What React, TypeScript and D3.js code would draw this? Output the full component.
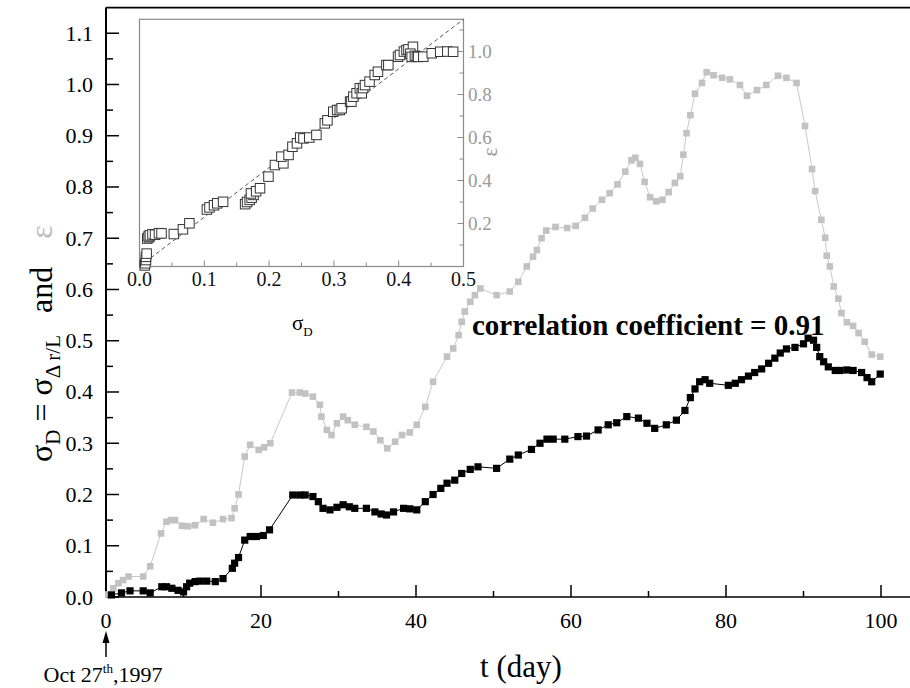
import React from 'react';
import * as d3 from 'd3';

// ---- main series: sigma_D (black) ----
const sigmaT = [0.7, 2.0, 3.1, 4.8, 5.7, 7.2, 7.8, 8.5, 9.3, 10.0, 10.4, 10.8, 11.5, 12.1, 13.0, 14.1, 15.1, 16.3, 16.6, 17.1, 17.9, 18.6, 19.4, 20.3, 21.1,
  24.1, 25.0, 25.7, 26.7, 27.4, 28.0, 28.9, 29.8, 30.6, 31.4, 32.1, 33.6, 34.7, 35.5, 36.2, 37.1, 38.4, 39.2, 40.1, 41.2, 42.2, 43.2, 44.0, 45.0, 45.9, 47.0, 48.0,
  50.4, 52.1, 53.2, 54.9, 56.0, 56.9, 57.7, 59.2, 60.9, 62.0, 63.5, 64.8, 65.9, 67.2, 68.7, 69.8, 70.8, 72.3, 73.6, 74.7, 75.4, 76.0, 76.6, 77.3, 77.9,
  80.3, 81.2, 82.0, 82.9, 83.7, 84.6, 85.5, 86.3, 87.0, 87.8, 88.9, 90.0, 90.6, 91.3, 91.7, 92.1, 92.6, 93.2, 94.1, 94.7, 95.6, 96.4, 97.5, 98.2, 98.8, 99.9];
const sigmaV = [0.004, 0.008, 0.012, 0.012, 0.008, 0.02, 0.02, 0.017, 0.013, 0.01, 0.02, 0.027, 0.03, 0.031, 0.031, 0.03, 0.036, 0.056, 0.066, 0.077, 0.111, 0.118, 0.118, 0.12, 0.131,
  0.199, 0.199, 0.199, 0.196, 0.186, 0.173, 0.17, 0.175, 0.18, 0.176, 0.173, 0.173, 0.166, 0.162, 0.16, 0.166, 0.173, 0.172, 0.17, 0.186, 0.2, 0.212, 0.222, 0.228, 0.241, 0.249, 0.254,
  0.251, 0.269, 0.277, 0.288, 0.3, 0.308, 0.308, 0.308, 0.313, 0.314, 0.326, 0.336, 0.34, 0.352, 0.349, 0.339, 0.329, 0.336, 0.345, 0.364, 0.389, 0.406, 0.42, 0.424, 0.417,
  0.413, 0.417, 0.424, 0.431, 0.438, 0.445, 0.456, 0.466, 0.476, 0.484, 0.487, 0.494, 0.505, 0.501, 0.487, 0.469, 0.459, 0.449, 0.442, 0.442, 0.443, 0.442, 0.438, 0.428, 0.42, 0.435];

// ---- main series: epsilon (grey) ----
const epsT = [0.3, 0.95, 1.6, 2.2, 2.9, 4.8, 5.7, 7.1, 7.8, 8.4, 8.9, 9.8, 10.6, 11.5, 12.6, 13.8, 15.1, 16.2, 16.6, 17.1, 17.9, 18.6, 19.7, 20.4, 21.2,
  24.0, 25.0, 25.7, 26.7, 27.6, 27.8, 28.5, 29.1, 29.8, 30.6, 31.2, 32.1, 33.6, 34.5, 35.4, 36.3, 37.3, 38.2, 39.2, 40.1, 41.2, 42.2, 44.0, 44.8, 45.5, 45.9, 46.3, 47.0, 47.6, 48.3,
  50.4, 52.1, 53.2, 54.3, 55.1, 55.6, 56.2, 56.8, 58.0, 59.5, 60.6, 61.8, 62.8, 64.0, 65.0, 66.0, 67.0, 67.8, 68.3, 68.9, 69.5, 70.2, 71.0, 71.8, 72.6, 73.4,
  74.1, 74.5, 74.9, 75.4, 76.0, 76.9, 77.5, 78.4, 79.5, 80.5, 81.8, 82.7, 84.0, 85.2, 86.7, 87.8, 89.1, 90.2, 91.1, 91.5, 92.3, 92.8, 93.0, 93.4, 93.9, 94.5, 94.9, 95.6, 96.4, 97.1, 97.9, 98.8, 99.9];
const epsV = [0.005, 0.017, 0.027, 0.033, 0.04, 0.04, 0.06, 0.124, 0.147, 0.15, 0.15, 0.139, 0.138, 0.14, 0.152, 0.145, 0.152, 0.154, 0.173, 0.2, 0.274, 0.297, 0.287, 0.292, 0.3,
  0.399, 0.399, 0.397, 0.391, 0.375, 0.352, 0.326, 0.316, 0.339, 0.352, 0.345, 0.336, 0.332, 0.323, 0.306, 0.29, 0.303, 0.316, 0.321, 0.336, 0.371, 0.42, 0.469, 0.485, 0.511, 0.537, 0.557, 0.576, 0.589, 0.602,
  0.589, 0.596, 0.615, 0.645, 0.664, 0.677, 0.7, 0.715, 0.722, 0.72, 0.724, 0.74, 0.758, 0.775, 0.788, 0.805, 0.83, 0.852, 0.857, 0.845, 0.81, 0.78, 0.772, 0.775, 0.79, 0.808,
  0.821, 0.863, 0.905, 0.94, 0.982, 1.003, 1.024, 1.018, 1.013, 1.01, 0.999, 0.978, 0.989, 0.999, 1.017, 1.013, 1.003, 0.919, 0.835, 0.792, 0.736, 0.701, 0.666, 0.645, 0.606, 0.582, 0.554, 0.536, 0.529, 0.515, 0.498, 0.473, 0.469];

// ---- inset: epsilon vs sigma_D ----
const insetSigma = [0.008, 0.009, 0.01, 0.01, 0.011, 0.012, 0.015, 0.014, 0.016, 0.02, 0.024, 0.03, 0.034, 0.053, 0.067, 0.077,
  0.104, 0.108, 0.115, 0.12, 0.129, 0.163, 0.166, 0.17, 0.173, 0.176, 0.172, 0.18, 0.186, 0.199, 0.209, 0.222, 0.219, 0.23, 0.236,
  0.243, 0.248, 0.253, 0.262, 0.273, 0.286, 0.29, 0.299, 0.305, 0.309, 0.312, 0.325, 0.327, 0.33, 0.335, 0.34, 0.343, 0.345, 0.348, 0.355,
  0.363, 0.368, 0.381, 0.384, 0.399, 0.402, 0.408, 0.412, 0.415, 0.422, 0.418, 0.42, 0.425, 0.428, 0.43, 0.438, 0.451, 0.464, 0.475, 0.484];
const insetEps = [0.005, 0.015, 0.03, 0.045, 0.06, 0.13, 0.136, 0.14, 0.145, 0.15, 0.148, 0.155, 0.154, 0.151, 0.173, 0.201,
  0.265, 0.275, 0.285, 0.294, 0.301, 0.29, 0.3, 0.31, 0.32, 0.333, 0.34, 0.35, 0.364, 0.418, 0.472, 0.48, 0.511, 0.519, 0.557,
  0.573, 0.6, 0.596, 0.6, 0.612, 0.666, 0.68, 0.72, 0.728, 0.728, 0.736, 0.767, 0.767, 0.79, 0.806, 0.829, 0.806, 0.83, 0.844, 0.86,
  0.891, 0.906, 0.937, 0.937, 0.976, 0.984, 1.0, 1.007, 1.01, 1.022, 0.99, 0.975, 0.98, 0.976, 0.975, 0.976, 0.992, 0.999, 1.0, 0.999];

// ---- ticks ----
const xMajorTicks = [0, 20, 40, 60, 80, 100];
const xMinorTicks = [10, 30, 50, 70, 90];
const yMajorTicks = [0, 0.1, 0.2, 0.3, 0.4, 0.5, 0.6, 0.7, 0.8, 0.9, 1.0, 1.1];
const yMinorTicks = [0.05, 0.15, 0.25, 0.35, 0.45, 0.55, 0.65, 0.75, 0.85, 0.95, 1.05];
const insetXMajor = [0, 0.1, 0.2, 0.3, 0.4, 0.5];
const insetXMinor = [0.05, 0.15, 0.25, 0.35, 0.45];
const insetYMajor = [0.2, 0.4, 0.6, 0.8, 1.0];
const insetYMinor = [0.1, 0.3, 0.5, 0.7, 0.9, 1.1];
const fitSlope = 2.3;

const FONT = "'Liberation Serif', 'Times New Roman', serif";
const GREY_MARK = '#c2c2c2';
const GREY_LINE = '#c9c9c9';
const INSET_GREY = '#8a8a8a';

export default function App() {
  const x = d3.scaleLinear().domain([0, 104]).range([106, 912]);
  const y = d3.scaleLinear().domain([0, 1.15]).range([597, 7.6]);
  const ix = d3.scaleLinear().domain([0, 0.5]).range([139.5, 463.5]);
  const iy = d3.scaleLinear().domain([0, 1.15]).range([266.5, 19.3]);

  const blackPts = sigmaT.map((t, i) => [t, sigmaV[i]] as [number, number]);
  const greyPts = epsT.map((t, i) => [t, epsV[i]] as [number, number]);
  const line = d3.line<[number, number]>().x(d => x(d[0])).y(d => y(d[1]));
  const fmt1 = d3.format('.1f');

  const bs = 7.2, gs = 6.6, is = 9.5;

  return (
    <svg width={910} height={688} style={{ position: 'absolute', left: 0, top: 0, background: '#fff' }} fontFamily={FONT}>
      <rect x={0} y={0} width={910} height={688} fill="#fff" />
      {/* frame */}
      <line x1={x(0)} x2={x(104)} y1={y(1.15)} y2={y(1.15)} stroke="#000" strokeWidth={1.6} />
      <line x1={x(0)} x2={x(104)} y1={y(0)} y2={y(0)} stroke="#000" strokeWidth={1.6} />
      <line x1={x(0)} x2={x(0)} y1={y(0)} y2={y(1.15)} stroke="#000" strokeWidth={2} />

      {/* x ticks */}
      {xMajorTicks.map(t => (
        <g key={'xm' + t}>
          <line x1={x(t)} x2={x(t)} y1={y(0)} y2={y(0) - 12} stroke="#000" strokeWidth={1.5} />
          <text x={x(t)} y={628} fontSize={22} textAnchor="middle">{t}</text>
        </g>
      ))}
      {xMinorTicks.map(t => (
        <line key={'xn' + t} x1={x(t)} x2={x(t)} y1={y(0)} y2={y(0) - 6} stroke="#000" strokeWidth={1.5} />
      ))}
      {/* y ticks */}
      {yMajorTicks.map(v => (
        <g key={'ym' + v}>
          <line x1={x(0)} x2={x(0) + 13} y1={y(v)} y2={y(v)} stroke="#000" strokeWidth={1.5} />
          <text x={93} y={y(v) + 7.5} fontSize={22} textAnchor="end">{fmt1(v)}</text>
        </g>
      ))}
      {yMinorTicks.map(v => (
        <line key={'yn' + v} x1={x(0)} x2={x(0) + 7} y1={y(v)} y2={y(v)} stroke="#000" strokeWidth={1.5} />
      ))}

      {/* grey series */}
      <path d={line(greyPts) || ''} fill="none" stroke={GREY_LINE} strokeWidth={1} />
      {greyPts.map((d, i) => (
        <rect key={'g' + i} x={x(d[0]) - gs / 2} y={y(d[1]) - gs / 2} width={gs} height={gs} fill={GREY_MARK} />
      ))}
      {/* black series */}
      <path d={line(blackPts) || ''} fill="none" stroke="#000" strokeWidth={1} />
      {blackPts.map((d, i) => (
        <rect key={'b' + i} x={x(d[0]) - bs / 2} y={y(d[1]) - bs / 2} width={bs} height={bs} fill="#000" />
      ))}

      {/* annotation */}
      <text x={472} y={335} fontSize={29} fontWeight="bold">correlation coefficient = 0.91</text>

      {/* axis titles */}
      <text x={521} y={677} fontSize={31} textAnchor="middle">t (day)</text>
      <text transform="translate(52,462) rotate(-90)" fontSize={32}>
        <tspan>σ</tspan>
        <tspan fontSize={21} dy={8}>D</tspan>
        <tspan dy={-8}> = σ</tspan>
        <tspan fontSize={21} dy={8}>Δ r/L</tspan>
        <tspan dy={-8} dx={22}>and</tspan>
        <tspan dx={28} fill="#bdbdbd">ε</tspan>
      </text>

      {/* date marker */}
      <line x1={x(0)} x2={x(0)} y1={657} y2={640} stroke="#000" strokeWidth={1.5} />
      <path d={`M${x(0)},631 L${x(0) - 3.5},643 L${x(0) + 3.5},643 Z`} fill="#000" />
      <text x={103} y={682} fontSize={22} textAnchor="middle">
        <tspan>Oct 27</tspan>
        <tspan fontSize={13} dy={-9}>th</tspan>
        <tspan dy={9}>,1997</tspan>
      </text>

      {/* ---------- inset ---------- */}
      <g>
        <rect x={ix(0)} y={iy(1.15)} width={ix(0.5) - ix(0)} height={iy(0) - iy(1.15)} fill="#fff" stroke={INSET_GREY} strokeWidth={1.2} />
        {insetXMajor.map(v => (
          <g key={'ixm' + v}>
            <line x1={ix(v)} x2={ix(v)} y1={iy(0)} y2={iy(0) - 6} stroke={INSET_GREY} strokeWidth={1} />
            <text x={ix(v)} y={286} fontSize={20} textAnchor="middle" fill="#111">{fmt1(v)}</text>
          </g>
        ))}
        {insetXMinor.map(v => (
          <line key={'ixn' + v} x1={ix(v)} x2={ix(v)} y1={iy(0)} y2={iy(0) - 4} stroke={INSET_GREY} strokeWidth={1} />
        ))}
        {insetYMajor.map(v => (
          <g key={'iym' + v}>
            <line x1={ix(0.5)} x2={ix(0.5) - 6} y1={iy(v)} y2={iy(v)} stroke={INSET_GREY} strokeWidth={1} />
            <text x={468} y={iy(v) + 6.5} fontSize={19} fill="#999">{fmt1(v)}</text>
          </g>
        ))}
        {insetYMinor.map(v => (
          <line key={'iyn' + v} x1={ix(0.5)} x2={ix(0.5) - 4} y1={iy(v)} y2={iy(v)} stroke={INSET_GREY} strokeWidth={1} />
        ))}
        <line x1={ix(0)} y1={iy(0)} x2={ix(0.5)} y2={iy(0.5 * fitSlope)} stroke="#555" strokeWidth={1} strokeDasharray="4,3" />
        {insetSigma.map((s, i) => (
          <rect key={'ip' + i} x={ix(s) - is / 2} y={iy(insetEps[i]) - is / 2} width={is} height={is} fill="#fff" stroke="#333" strokeWidth={1} />
        ))}
        <text x={292} y={330} fontSize={21}>
          <tspan>σ</tspan>
          <tspan fontSize={13} dy={6}>D</tspan>
        </text>
        <text transform="translate(497,152) rotate(-90)" fontSize={21} fill="#999" textAnchor="middle">ε</text>
      </g>
    </svg>
  );
}
